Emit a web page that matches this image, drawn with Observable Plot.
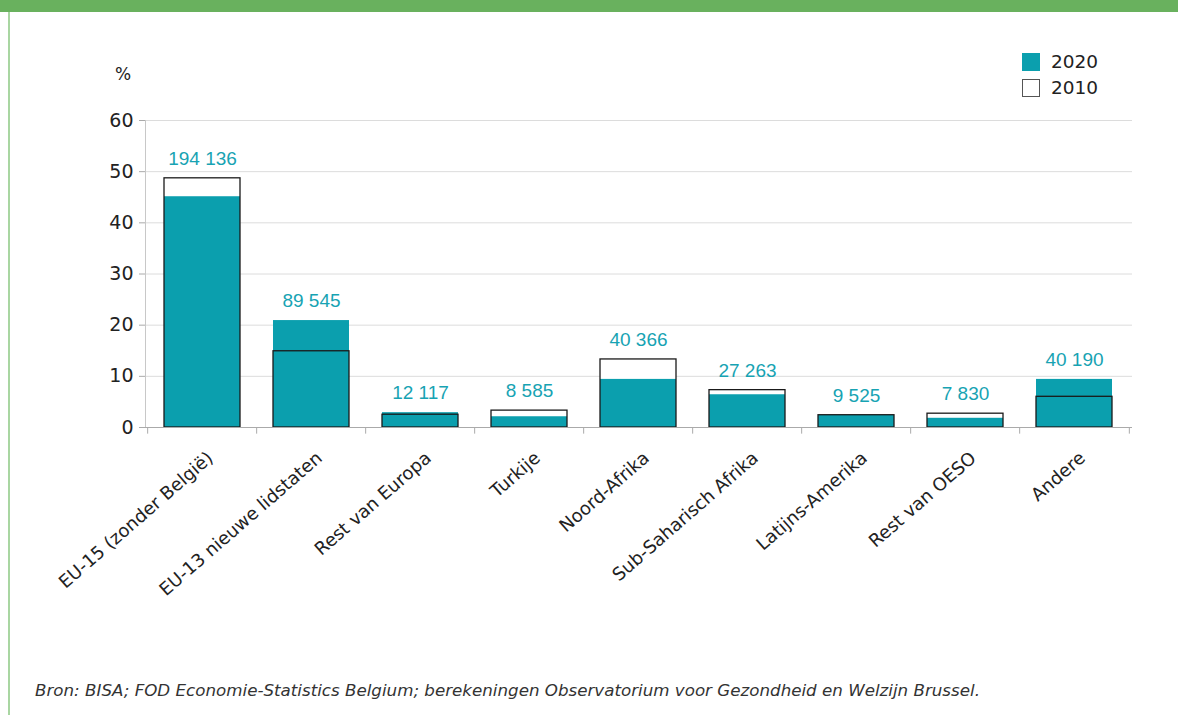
<!DOCTYPE html>
<html>
<head>
<meta charset="utf-8">
<script src="https://cdn.jsdelivr.net/npm/d3@7"></script>
<script src="https://cdn.jsdelivr.net/npm/@observablehq/plot@0.6"></script>
<style>
  html, body { margin: 0; padding: 0; background: #fff; }
  #wrap { position: relative; width: 1178px; height: 715px; overflow: hidden; font-family: "DejaVu Sans", sans-serif; }
  #topbar { position: absolute; left: 0; top: 0; width: 1178px; height: 12px; background: #69b15e; }
  #leftline { position: absolute; left: 8px; top: 12px; width: 2px; height: 703px; background: #a9d6a2; }
  #chart { position: absolute; left: 0; top: 0; width: 1178px; height: 715px; }
  #pct { position: absolute; left: 115px; top: 64px; font-size: 17px; color: #222; }
  .leg { position: absolute; left: 1022px; font-size: 18.5px; color: #222; display: flex; align-items: center; }
  .sw { width: 18px; height: 18px; margin-right: 11px; box-sizing: border-box; }
  #footer { position: absolute; left: 35px; top: 680px; font-size: 16.7px; font-style: italic; color: #333; white-space: nowrap; }
  #err { position: absolute; left: 200px; top: 200px; color: red; font-size: 14px; }
</style>
</head>
<body>
<div id="wrap">
  <div id="topbar"></div>
  <div id="leftline"></div>
  <div id="chart"></div>
  <div id="pct">%</div>
  <div class="leg" style="top:51px"><div class="sw" style="background:#0b9fae"></div>2020</div>
  <div class="leg" style="top:77px"><div class="sw" style="border:1px solid #555;background:#fff"></div>2010</div>
  <div id="footer">Bron: BISA; FOD Economie-Statistics Belgium; berekeningen Observatorium voor Gezondheid en Welzijn Brussel.</div>
  <div id="err"></div>
</div>
<script>
const categories = ["EU-15 (zonder België)", "EU-13 nieuwe lidstaten", "Rest van Europa", "Turkije", "Noord-Afrika", "Sub-Saharisch Afrika", "Latijns-Amerika", "Rest van OESO", "Andere"];
const share2020 = [45.1, 20.9, 2.9, 2.1, 9.4, 6.4, 2.4, 1.8, 9.4];
const share2010 = [48.7, 14.9, 2.5, 3.3, 13.3, 7.3, 2.4, 2.7, 6.0];
const counts2020 = [194136, 89545, 12117, 8585, 40366, 27263, 9525, 7830, 40190];
const yTicks = [0, 10, 20, 30, 40, 50, 60];

const errEl = document.getElementById("err");
try {
const data = categories.map((c, i) => ({cat: c, v2020: share2020[i], v2010: share2010[i], n: counts2020[i], top: Math.max(share2020[i], share2010[i])}));
const fmt = d3.formatLocale({decimal: ",", thousands: " ", grouping: [3], currency: ["", ""]}).format(",d");

const W = 1178, H = 715, mL = 145, mR = 46, mT = 120, mB = 288;
const step = (W - mL - mR) / categories.length;
const teal = "#0b9fae";

const chart = Plot.plot({
  width: W, height: H,
  marginLeft: mL, marginRight: mR, marginTop: mT, marginBottom: mB,
  style: {fontFamily: "'DejaVu Sans', sans-serif", background: "transparent", overflow: "visible"},
  x: {domain: categories, paddingInner: 0.3, paddingOuter: 0.15, axis: null},
  y: {domain: [0, 60], axis: null},
  marks: [
    Plot.ruleY(yTicks.filter(d => d > 0), {stroke: "#dcdcdc", strokeWidth: 1}),
    Plot.frame({anchor: "left", stroke: "#c8c8c8"}),
    Plot.axisY({ticks: yTicks, tickSize: 6, tickPadding: 6, fontSize: 19, stroke: "#aaa", color: "#222", label: null, tickFormat: d => String(d)}),
    Plot.barY(data, {x: "cat", y: "v2010", fill: "white"}),
    Plot.barY(data, {x: "cat", y: "v2020", fill: teal}),
    Plot.barY(data, {x: "cat", y: "v2010", fill: "none", stroke: "#1a1a1a", strokeWidth: 1.3}),
    Plot.ruleY([0], {stroke: "#aaa", strokeWidth: 1}),
    Plot.ruleX(categories, {x: d => d, y1: 0, y2: -1.3, dx: -step / 2, stroke: "#aaa"}),
    Plot.ruleX([categories[categories.length - 1]], {x: d => d, y1: 0, y2: -1.3, dx: step / 2, stroke: "#aaa"}),
    Plot.text(categories, {x: d => d, frameAnchor: "bottom", text: d => d, rotate: -41, textAnchor: "end", lineAnchor: "middle", dx: 8, dy: 28, fontSize: 18, fill: "#222"}),
    Plot.text(data, {x: "cat", y: "top", text: d => fmt(d.n), dy: -13.5, lineAnchor: "bottom", fill: "#17a3b3", fontSize: 19, fontFamily: "'Liberation Sans', Arial, sans-serif"})
  ]
});
document.getElementById("chart").appendChild(chart);
} catch (e) {
  errEl.textContent = "ERR: " + String(e && e.stack || e);
}
</script>
</body>
</html>
